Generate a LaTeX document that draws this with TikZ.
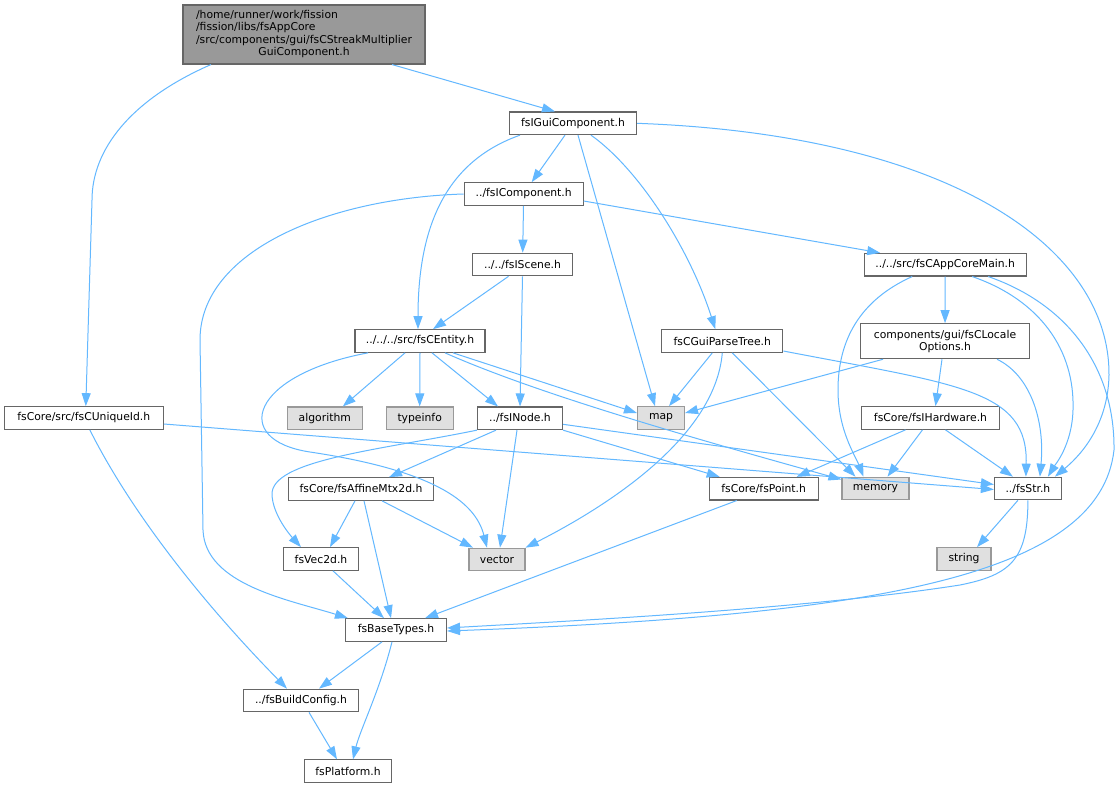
\documentclass[tikz,border=0pt]{standalone}
\usepackage{fontspec}
\setmainfont{DejaVu Sans}
\usepackage{tikz}
\usetikzlibrary{arrows.meta}
\definecolor{edgeblue}{HTML}{63B8FF}
\definecolor{nodeborder}{HTML}{666666}
\definecolor{sysborder}{HTML}{999999}
\definecolor{sysfill}{HTML}{E0E0E0}
\definecolor{rootfill}{HTML}{999999}
\newcommand*{\graphfont}{\fontsize{10.8pt}{12.2pt}\selectfont}
\tikzset{%
  file/.style={draw=nodeborder, fill=white, rectangle, line width=1.1pt,
    inner sep=0pt, minimum height=22.6pt, font=\graphfont},% header of the project
  sysfile/.style={file, draw=sysborder, fill=sysfill},% system header
  rootfile/.style={file, fill=rootfill},% the documented file
  dep/.style={draw=edgeblue, line width=1pt, -{Triangle[length=13pt, width=9pt]}}% include edge
}
\begin{document}
\begin{tikzpicture}[x=1pt, y=-1pt]
\useasboundingbox (0,0) rectangle (1120,788);
\fill[white] (0,0) rectangle (1120,788);
\node[rootfile, minimum width=242pt, minimum height=59pt] (root) at (304, 34.5) {%
\begin{tabular}{@{}l@{}}
/home/runner/work/fission\\
/fission/libs/fsAppCore\\
/src/components/gui/fsCStreakMultiplier\\
\multicolumn{1}{@{}c@{}}{GuiComponent.h}
\end{tabular}};
\node[file, minimum width=127pt] (gui) at (573, 123.3) {fsIGuiComponent.h};
\node[file, minimum width=119pt] (comp) at (523.7, 194) {../fsIComponent.h};
\node[file, minimum width=100pt] (scene) at (522.5, 264.5) {../../fsIScene.h};
\node[file, minimum width=162pt] (appmain) at (945.2, 264.7) {../../src/fsCAppCoreMain.h};
\node[file, minimum width=130pt] (entity) at (420, 341) {../../../src/fsCEntity.h};
\node[file, minimum width=121pt] (parsetree) at (722.3, 341) {fsCGuiParseTree.h};
\node[file, minimum width=169pt, minimum height=35pt, align=center] (locale) at (945, 341.2) {components/gui/fsCLocale\\Options.h};
\node[file, minimum width=159pt] (uniqueid) at (83.8, 418) {fsCore/src/fsCUniqueId.h};
\node[sysfile, minimum width=75pt] (algorithm) at (324.8, 418.3) {algorithm};
\node[sysfile, minimum width=67pt] (typeinfo) at (419.7, 418.3) {typeinfo};
\node[file, minimum width=85pt] (inode) at (520, 418.3) {../fsINode.h};
\node[sysfile, minimum width=47pt] (map) at (661, 418) {map};
\node[file, minimum width=138pt] (hardware) at (930.5, 418) {fsCore/fsIHardware.h};
\node[file, minimum width=145pt] (affine) at (361, 489) {fsCore/fsAffineMtx2d.h};
\node[file, minimum width=109pt] (point) at (763.7, 488.7) {fsCore/fsPoint.h};
\node[sysfile, minimum width=67pt] (memory) at (875.5, 488.5) {memory};
\node[file, minimum width=67pt] (str) at (1027.9, 488.5) {../fsStr.h};
\node[file, minimum width=75pt] (vec2d) at (321, 559) {fsVec2d.h};
\node[sysfile, minimum width=56pt] (vector) at (497, 559.5) {vector};
\node[sysfile, minimum width=54pt] (string) at (964, 559) {string};
\node[file, minimum width=101pt] (basetypes) at (396, 630) {fsBaseTypes.h};
\node[file, minimum width=115pt] (buildconfig) at (301, 700.5) {../fsBuildConfig.h};
\node[file, minimum width=87pt] (platform) at (348, 771.2) {fsPlatform.h};

\draw[dep] ([xshift=88pt]root.south) -- ([xshift=-18pt]gui.north);
\draw[dep] ([xshift=-93pt]root.south) .. controls (130,100) and (92,150) .. (92,200) -- ([xshift=2pt]uniqueid.north);
\draw[dep] ([xshift=-8pt]gui.south) -- ([xshift=8pt]comp.north);
\draw[dep] ([xshift=-53pt]gui.south) .. controls (450,160) and (418,220) .. ([xshift=-2pt]entity.north);
\draw[dep] ([xshift=5pt]gui.south) -- ([xshift=-6pt]map.north);
\draw[dep] ([xshift=18pt]gui.south) .. controls (640,170) and (690,250) .. ([xshift=-7pt]parsetree.north);
\draw[dep] (gui.east) .. controls (955,135) and (1110,250) .. (1109,375) .. controls (1108,430) and (1075,460) .. ([xshift=27pt]str.north);
\draw[dep] (comp) -- (scene);
\draw[dep] ([yshift=-7pt]comp.east) -- ([xshift=-65pt]appmain.north);
\draw[dep] (comp.west) .. controls (330,198) and (200,250) .. (200,340) -- (203,530) .. controls (205,585) and (290,600) .. ([xshift=3pt]basetypes.north west);
\draw[dep] ([xshift=-14pt]scene.south) -- ([xshift=13pt]entity.north);
\draw[dep] (scene.south) -- (inode.north);
\draw[dep] (appmain) -- (locale);
\draw[dep] ([xshift=-33pt]appmain.south) .. controls (860,300) and (838,340) .. (838,390) .. controls (838,430) and (855,455) .. ([xshift=-12pt]memory.north);
\draw[dep] ([xshift=27pt]appmain.south) .. controls (1040,300) and (1075,350) .. (1073,410) .. controls (1072,445) and (1055,465) .. ([xshift=20pt]str.north);
\draw[dep] ([xshift=43pt]appmain.south) .. controls (1070,305) and (1115,370) .. (1114,450) .. controls (1100,575) and (880,615) .. ([yshift=-1pt]basetypes.east);
\draw[dep] ([xshift=-62pt]locale.south) -- ([yshift=5pt]map.east);
\draw[dep] ([xshift=-3pt]locale.south) -- ([xshift=5pt]hardware.north);
\draw[dep] ([xshift=52pt]locale.south) .. controls (1030,375) and (1045,420) .. ([xshift=12pt]str.north);
\draw[dep] ([xshift=-15pt]entity.south) -- ([xshift=18pt]algorithm.north);
\draw[dep] (entity.south) -- (typeinfo.north);
\draw[dep] ([xshift=12pt]entity.south) -- ([xshift=-22pt]inode.north);
\draw[dep] ([xshift=33pt]entity.south) -- ([yshift=5pt]map.west);
\draw[dep] ([xshift=25pt]entity.south) .. controls (540,395) and (700,440) .. ([yshift=9pt]memory.west);
\draw[dep] ([xshift=-52pt]entity.south) .. controls (250,375) and (230,440) .. (310,452) .. controls (430,470) and (475,500) .. ([xshift=-10pt]vector.north);
\draw[dep] ([xshift=-10pt]parsetree.south) -- ([xshift=8pt]map.north);
\draw[dep] ([xshift=10pt]parsetree.south) -- ([xshift=-20pt]memory.north);
\draw[dep] (parsetree.south) .. controls (715,440) and (600,510) .. (vector.north east);
\draw[dep] ([yshift=-10pt]parsetree.east) .. controls (960,385) and (1028,390) .. ([xshift=-2pt]str.north);
\draw[dep] ([yshift=-6pt]uniqueid.east) -- ([yshift=-1pt]str.west);
\draw[dep] ([xshift=6pt]uniqueid.south) .. controls (130,510) and (200,600) .. ([xshift=-14pt]buildconfig.north);
\draw[dep] (inode.south west) .. controls (380,450) and (270,460) .. (272,495) .. controls (273,515) and (290,535) .. ([xshift=-20pt]vec2d.north);
\draw[dep] ([xshift=-24pt]inode.south) -- ([xshift=28pt]affine.north);
\draw[dep] ([xshift=-3pt]inode.south) -- ([xshift=3pt]vector.north);
\draw[dep] (inode.south east) -- ([xshift=-44pt]point.north);
\draw[dep] ([yshift=-6pt]inode.east) -- ([yshift=4pt]str.west);
\draw[dep] ([xshift=-25pt]hardware.south) -- ([xshift=33pt]point.north);
\draw[dep] ([xshift=-8pt]hardware.south) -- ([xshift=12pt]memory.north);
\draw[dep] ([xshift=15pt]hardware.south) -- ([xshift=-15pt]str.north);
\draw[dep] ([xshift=-6pt]affine.south) -- ([xshift=9pt]vec2d.north);
\draw[dep] ([xshift=3pt]affine.south) -- ([xshift=-5pt]basetypes.north);
\draw[dep] ([xshift=21pt]affine.south) -- ([xshift=-24pt]vector.north);
\draw[dep] ([xshift=-27pt]point.south) -- ([xshift=29pt]basetypes.north);
\draw[dep] ([xshift=12pt]vec2d.south) -- ([xshift=-12pt]basetypes.north);
\draw[dep] ([xshift=-10pt]str.south) -- ([xshift=13pt]string.north);
\draw[dep] (str.south) .. controls (1028,560) and (1010,575) .. (960,585) .. controls (800,610) and (550,622) .. ([yshift=2pt]basetypes.east);
\draw[dep] ([xshift=-14pt]basetypes.south) -- ([xshift=18pt]buildconfig.north);
\draw[dep] ([xshift=-4pt]basetypes.south) .. controls (380,690) and (360,730) .. ([xshift=5pt]platform.north);
\draw[dep] ([xshift=8pt]buildconfig.south) -- ([xshift=-11pt]platform.north);
\end{tikzpicture}
\end{document}
